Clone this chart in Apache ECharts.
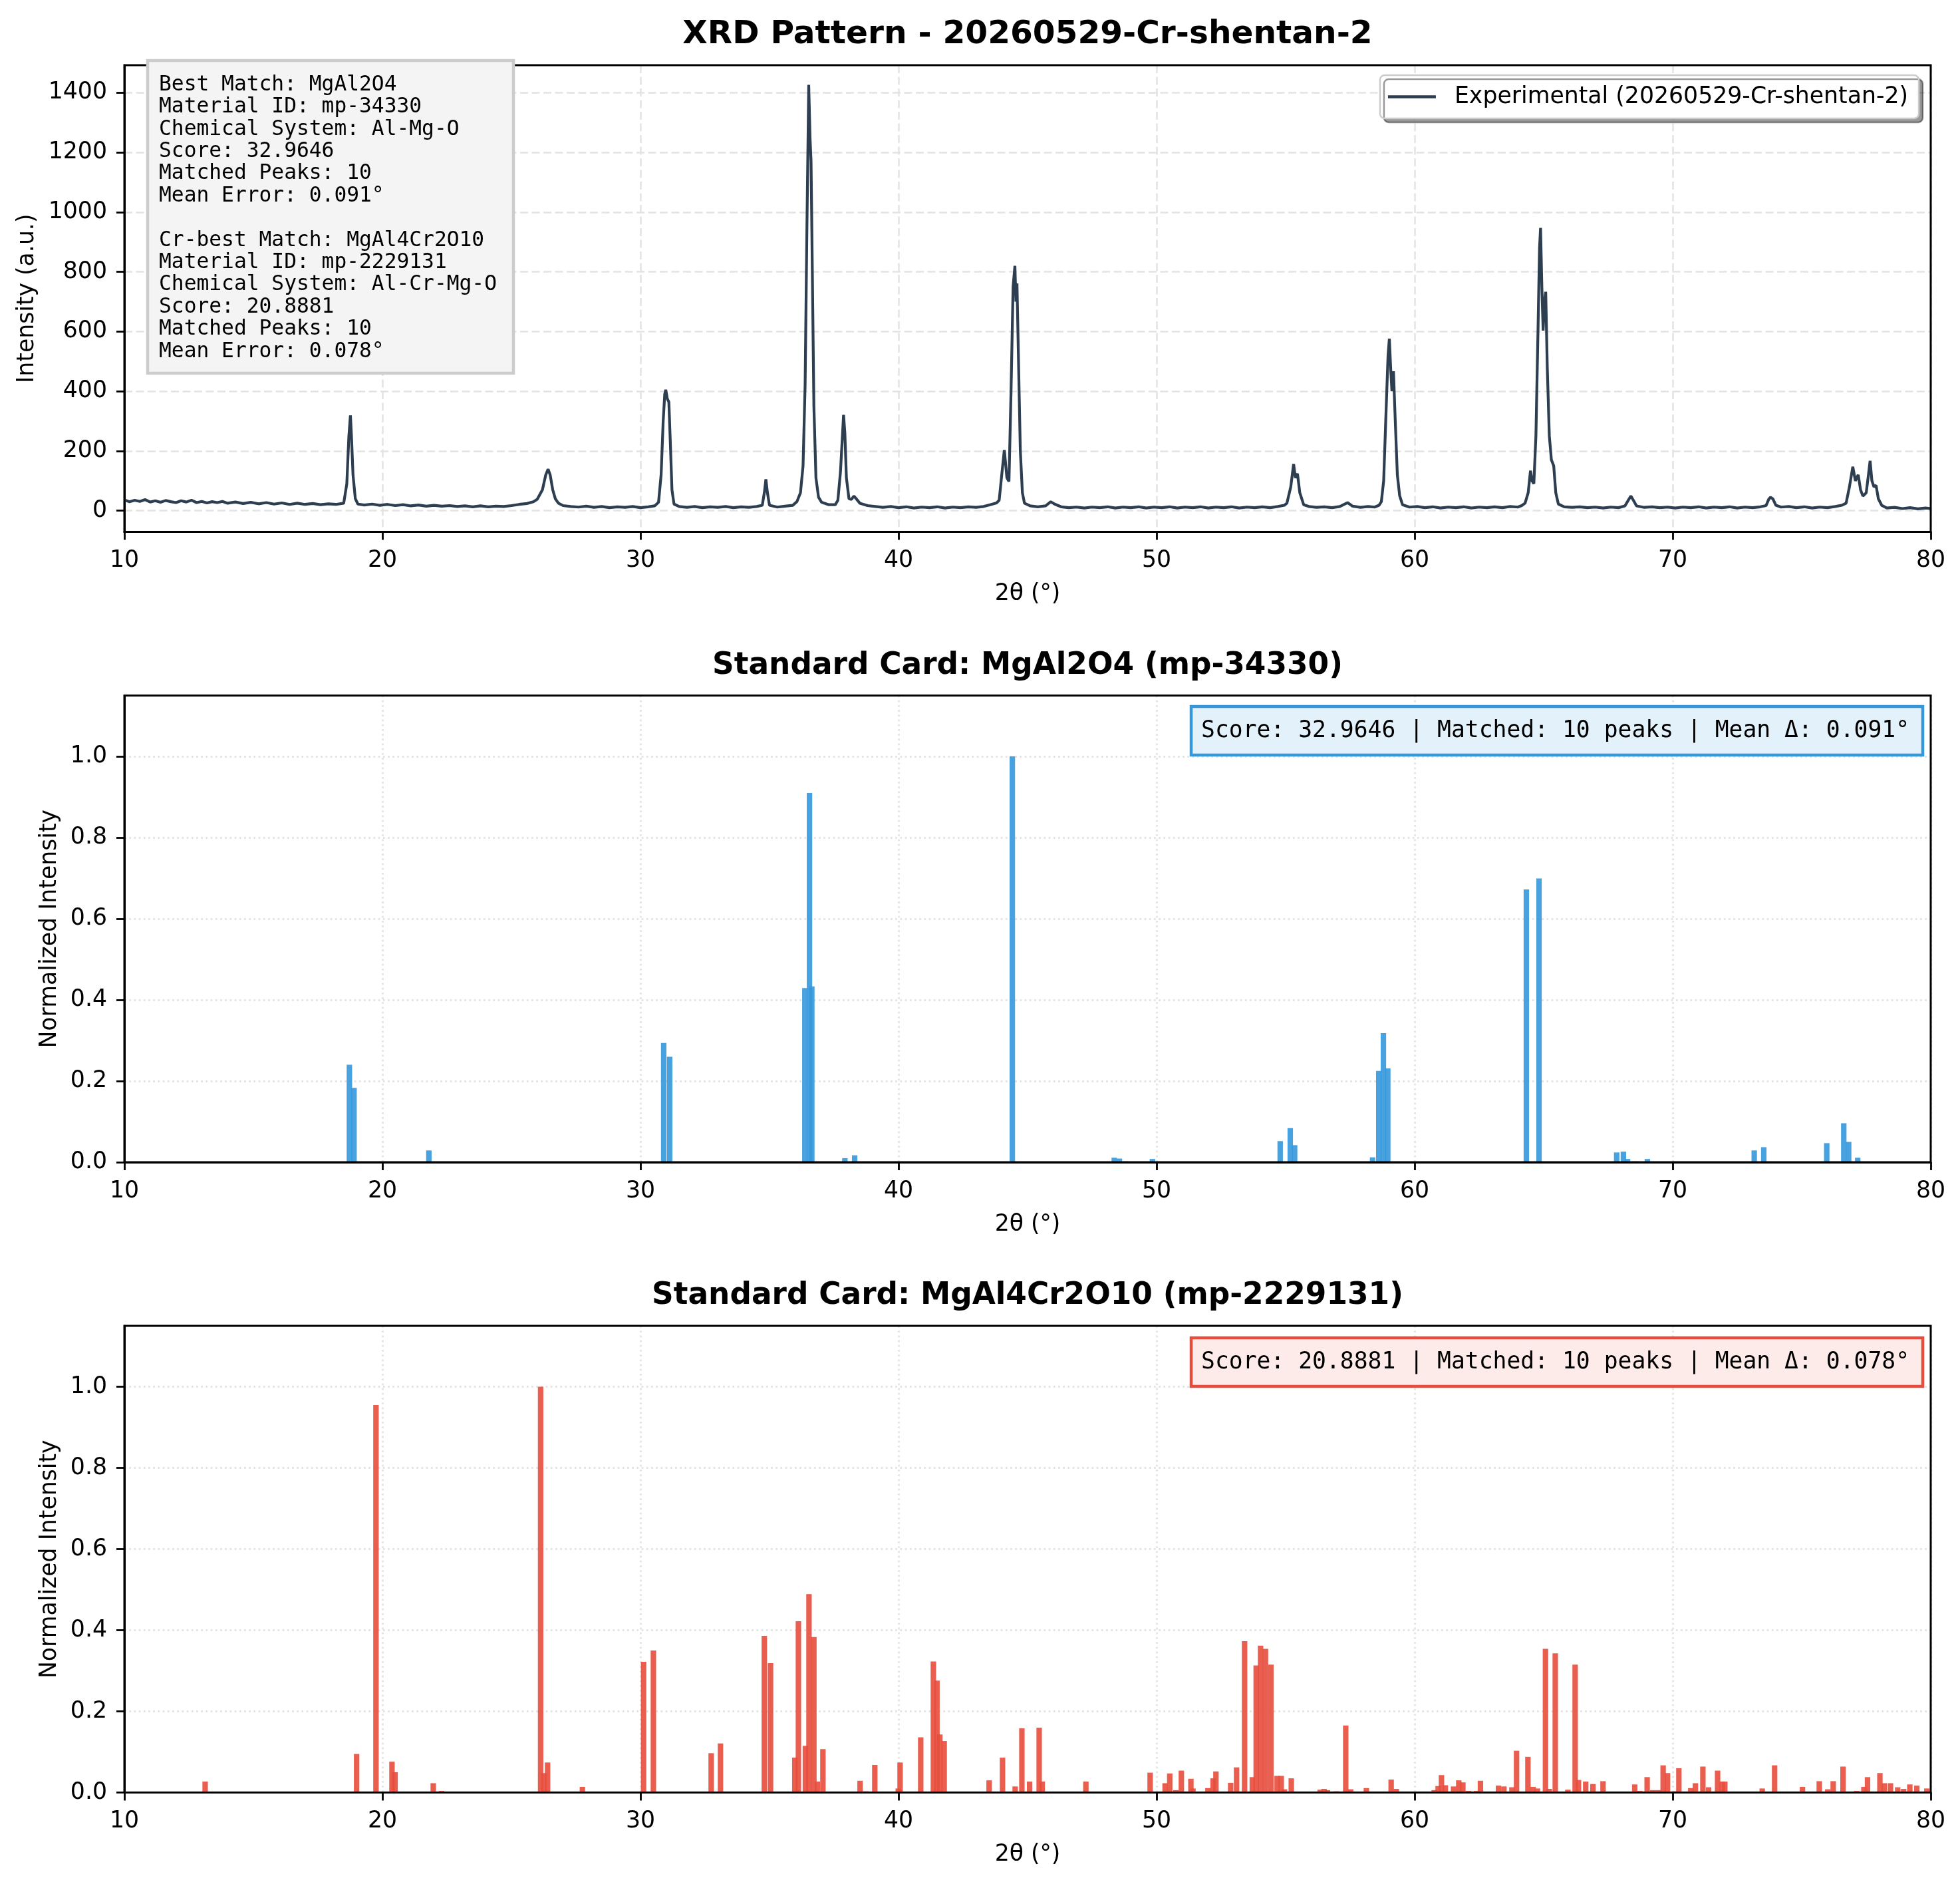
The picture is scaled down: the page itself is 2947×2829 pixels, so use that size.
<!DOCTYPE html>
<html>
<head>
<meta charset="utf-8">
<title>XRD Pattern - 20260529-Cr-shentan-2</title>
<script src="https://cdn.jsdelivr.net/npm/echarts@6/dist/echarts.min.js"></script>
<style>
  html, body { margin: 0; padding: 0; background: #fff; }
  #chart { width: 2947px; height: 2829px; }
</style>
</head>
<body>
<div id="chart"></div>
<script>
// XRD pattern of one sample with two reference cards underneath.

const sampleName = "20260529-Cr-shentan-2"
const twoThetaRange = [10, 80]
const intensityTicks = [0, 200, 400, 600, 800, 1000, 1200, 1400]
const normTicks = [0, 0.2, 0.4, 0.6, 0.8, 1.0]

// experimental scan: [2θ, counts]
const experimental = [
  [10.0, 36], [10.2, 30], [10.4, 35], [10.6, 31], [10.8, 37], [11.0, 29], [11.2, 33], [11.4, 28],
  [11.6, 34], [11.8, 30], [12.0, 27], [12.2, 33], [12.4, 29], [12.6, 35], [12.8, 27], [13.0, 31],
  [13.2, 26], [13.4, 30], [13.6, 27], [13.8, 31], [14.0, 25], [14.3, 29], [14.6, 24], [14.9, 28],
  [15.2, 23], [15.5, 27], [15.8, 22], [16.1, 26], [16.4, 21], [16.7, 25], [17.0, 21], [17.3, 24],
  [17.6, 20], [17.9, 23], [18.2, 21], [18.5, 25], [18.62, 90], [18.7, 250], [18.76, 319], [18.8, 250],
  [18.86, 120], [18.95, 40], [19.05, 22], [19.3, 19], [19.6, 22], [19.9, 18], [20.2, 21], [20.5, 17],
  [20.8, 20], [21.1, 16], [21.4, 19], [21.7, 15], [22.0, 18], [22.3, 15], [22.6, 17], [22.9, 14],
  [23.2, 16], [23.5, 13], [23.8, 16], [24.1, 13], [24.4, 15], [24.7, 14], [25.0, 17], [25.3, 21],
  [25.6, 24], [25.85, 30], [26.0, 38], [26.2, 70], [26.33, 120], [26.42, 139], [26.5, 120], [26.6, 70],
  [26.7, 40], [26.82, 25], [27.0, 17], [27.3, 14], [27.6, 12], [27.9, 15], [28.2, 11], [28.5, 14],
  [28.8, 10], [29.1, 13], [29.4, 11], [29.7, 14], [30.0, 10], [30.3, 13], [30.55, 16], [30.7, 28],
  [30.8, 120], [30.88, 300], [30.94, 390], [30.98, 405], [31.04, 375], [31.1, 364], [31.16, 220], [31.22, 70],
  [31.3, 22], [31.5, 14], [31.8, 11], [32.1, 14], [32.4, 10], [32.7, 13], [33.0, 11], [33.3, 14],
  [33.6, 10], [33.9, 13], [34.2, 11], [34.5, 14], [34.72, 18], [34.8, 60], [34.86, 105], [34.92, 60],
  [35.0, 18], [35.3, 12], [35.6, 15], [35.9, 18], [36.06, 30], [36.2, 60], [36.3, 150], [36.38, 420],
  [36.45, 950], [36.52, 1426], [36.57, 1250], [36.61, 1170], [36.66, 800], [36.72, 350], [36.8, 110], [36.9, 45],
  [37.02, 28], [37.3, 20], [37.55, 20], [37.65, 35], [37.75, 130], [37.87, 321], [37.92, 260], [37.98, 110],
  [38.08, 40], [38.18, 38], [38.27, 49], [38.36, 40], [38.5, 25], [38.8, 17], [39.1, 14], [39.4, 11],
  [39.7, 14], [40.0, 10], [40.3, 13], [40.6, 9], [40.9, 12], [41.2, 10], [41.5, 13], [41.8, 9],
  [42.1, 12], [42.4, 10], [42.7, 13], [43.0, 11], [43.3, 14], [43.55, 20], [43.8, 26], [43.9, 35],
  [44.0, 120], [44.1, 203], [44.2, 110], [44.28, 98], [44.36, 400], [44.44, 750], [44.51, 820], [44.55, 700],
  [44.59, 761], [44.65, 500], [44.72, 200], [44.8, 60], [44.88, 25], [45.1, 16], [45.4, 13], [45.7, 16],
  [45.9, 30], [46.05, 22], [46.3, 13], [46.6, 10], [46.9, 12], [47.2, 9], [47.5, 12], [47.8, 10],
  [48.1, 13], [48.4, 9], [48.7, 12], [49.0, 10], [49.3, 13], [49.6, 9], [49.9, 12], [50.2, 10],
  [50.5, 13], [50.8, 9], [51.1, 12], [51.4, 10], [51.7, 13], [52.0, 9], [52.3, 12], [52.6, 10],
  [52.9, 13], [53.2, 9], [53.5, 12], [53.8, 10], [54.1, 13], [54.4, 10], [54.7, 14], [54.95, 18],
  [55.05, 25], [55.2, 80], [55.31, 156], [55.38, 110], [55.46, 124], [55.55, 60], [55.7, 20], [55.9, 14],
  [56.2, 11], [56.5, 13], [56.8, 10], [57.1, 14], [57.4, 27], [57.6, 15], [57.9, 11], [58.2, 14],
  [58.45, 12], [58.62, 18], [58.71, 30], [58.8, 100], [58.9, 350], [58.97, 520], [59.02, 576], [59.07, 480],
  [59.12, 400], [59.18, 467], [59.25, 300], [59.33, 120], [59.42, 50], [59.53, 20], [59.8, 12], [60.1, 14],
  [60.4, 10], [60.7, 13], [61.0, 9], [61.3, 12], [61.6, 10], [61.9, 13], [62.2, 9], [62.5, 12],
  [62.8, 10], [63.1, 13], [63.4, 10], [63.7, 14], [64.0, 12], [64.15, 17], [64.28, 25], [64.4, 60],
  [64.49, 134], [64.55, 100], [64.62, 90], [64.7, 250], [64.78, 600], [64.84, 880], [64.88, 947], [64.93, 750],
  [64.98, 603], [65.03, 700], [65.08, 733], [65.14, 480], [65.22, 250], [65.3, 170], [65.39, 150], [65.47, 60],
  [65.57, 22], [65.8, 13], [66.1, 11], [66.4, 13], [66.7, 10], [67.0, 12], [67.3, 9], [67.6, 12],
  [67.9, 10], [68.15, 16], [68.3, 38], [68.38, 49], [68.47, 36], [68.6, 16], [68.9, 11], [69.2, 13],
  [69.5, 10], [69.8, 12], [70.1, 9], [70.4, 12], [70.7, 10], [71.0, 13], [71.3, 9], [71.6, 12],
  [71.9, 10], [72.2, 13], [72.5, 9], [72.8, 12], [73.1, 10], [73.4, 13], [73.62, 17], [73.72, 38],
  [73.79, 45], [73.88, 40], [74.0, 18], [74.2, 12], [74.5, 14], [74.8, 10], [75.1, 13], [75.4, 9],
  [75.7, 12], [76.0, 10], [76.3, 14], [76.55, 18], [76.72, 25], [76.85, 80], [76.98, 147], [77.08, 100],
  [77.19, 120], [77.28, 70], [77.37, 49], [77.5, 60], [77.6, 130], [77.65, 167], [77.72, 100], [77.8, 80],
  [77.88, 85], [77.97, 40], [78.1, 18], [78.3, 9], [78.6, 11], [78.9, 7], [79.2, 10], [79.5, 6],
  [79.8, 9], [80.0, 7],
]

// standard card MgAl2O4 (mp-34330): [2θ, normalized intensity]
const spinelPeaks = [
  [18.72, 0.240], [18.90, 0.183], [21.80, 0.029], [30.90, 0.294], [31.13, 0.260],
  [36.37, 0.429], [36.64, 0.433], [36.55, 0.910], [37.92, 0.010], [38.30, 0.017],
  [44.41, 1.000], [48.36, 0.011], [48.56, 0.009], [48.79, 0.002], [49.84, 0.008],
  [50.10, 0.001], [54.79, 0.052], [55.18, 0.084], [55.35, 0.042], [58.37, 0.012],
  [58.61, 0.225], [58.79, 0.318], [58.96, 0.231], [64.33, 0.672], [64.82, 0.699],
  [67.83, 0.024], [68.09, 0.026], [68.25, 0.008], [68.55, 0.002], [69.02, 0.008],
  [73.16, 0.029], [73.53, 0.037], [75.97, 0.047], [76.63, 0.096], [76.82, 0.050],
  [77.17, 0.011], [77.50, 0.001], [77.75, 0.001],
]

// standard card MgAl4Cr2O10 (mp-2229131)
const chromitePeaks = [
  [13.13, 0.027], [19.00, 0.095], [19.75, 0.955], [20.37, 0.076], [20.49, 0.050],
  [21.97, 0.023], [22.29, 0.004], [26.13, 1.000], [26.26, 0.048], [26.40, 0.074],
  [27.75, 0.014], [30.12, 0.322], [30.50, 0.350], [32.74, 0.097], [33.10, 0.121],
  [34.80, 0.386], [35.04, 0.319], [35.98, 0.086], [36.12, 0.422], [36.39, 0.115],
  [36.53, 0.489], [36.72, 0.383], [36.86, 0.027], [37.07, 0.107], [38.51, 0.029],
  [38.73, 0.003], [39.08, 0.068], [39.99, 0.010], [40.06, 0.074], [40.86, 0.136],
  [41.35, 0.323], [41.49, 0.276], [41.60, 0.143], [41.77, 0.127], [43.51, 0.030],
  [44.03, 0.086], [44.52, 0.015], [44.78, 0.158], [45.08, 0.027], [45.45, 0.160],
  [45.57, 0.027], [46.13, 0.002], [47.26, 0.027], [49.03, 0.002], [49.75, 0.049],
  [50.33, 0.023], [50.51, 0.047], [50.75, 0.006], [50.96, 0.054], [51.33, 0.034],
  [51.41, 0.010], [51.99, 0.011], [52.19, 0.035], [52.30, 0.052], [52.87, 0.024],
  [53.10, 0.062], [53.41, 0.373], [53.71, 0.038], [53.86, 0.313], [54.03, 0.362],
  [54.22, 0.354], [54.43, 0.315], [54.67, 0.041], [54.83, 0.041], [54.96, 0.008],
  [55.22, 0.035], [56.34, 0.007], [56.49, 0.009], [56.62, 0.006], [56.97, 0.003],
  [57.33, 0.165], [57.52, 0.008], [58.13, 0.011], [59.09, 0.032], [59.29, 0.009],
  [60.76, 0.006], [60.91, 0.016], [61.04, 0.043], [61.19, 0.018], [61.51, 0.015],
  [61.71, 0.030], [61.87, 0.025], [62.09, 0.004], [62.40, 0.004], [62.55, 0.029],
  [63.25, 0.017], [63.46, 0.015], [63.77, 0.013], [63.95, 0.103], [64.39, 0.088],
  [64.59, 0.014], [64.76, 0.010], [65.07, 0.354], [65.22, 0.009], [65.45, 0.343],
  [65.94, 0.007], [66.22, 0.315], [66.35, 0.031], [66.63, 0.027], [66.91, 0.021],
  [67.30, 0.028], [68.53, 0.020], [68.73, 0.004], [69.01, 0.038], [69.23, 0.006],
  [69.44, 0.006], [69.63, 0.067], [69.80, 0.048], [70.10, 0.003], [70.24, 0.060],
  [70.70, 0.011], [70.88, 0.023], [71.17, 0.064], [71.39, 0.013], [71.74, 0.054],
  [71.92, 0.027], [72.02, 0.027], [73.47, 0.010], [73.95, 0.067], [75.03, 0.014],
  [75.68, 0.028], [76.01, 0.008], [76.22, 0.028], [76.60, 0.064], [77.13, 0.004],
  [77.41, 0.014], [77.55, 0.038], [78.03, 0.048], [78.20, 0.023], [78.44, 0.023],
  [78.72, 0.013], [78.95, 0.009], [79.19, 0.020], [79.46, 0.017], [79.85, 0.010],
]

const matchInfo = [
  "Best Match: MgAl2O4",
  "Material ID: mp-34330",
  "Chemical System: Al-Mg-O",
  "Score: 32.9646",
  "Matched Peaks: 10",
  "Mean Error: 0.091°",
  "",
  "Cr-best Match: MgAl4Cr2O10",
  "Material ID: mp-2229131",
  "Chemical System: Al-Cr-Mg-O",
  "Score: 20.8881",
  "Matched Peaks: 10",
  "Mean Error: 0.078°",
]
const spinelSummary = "Score: 32.9646 | Matched: 10 peaks | Mean Δ: 0.091°"
const chromiteSummary = "Score: 20.8881 | Matched: 10 peaks | Mean Δ: 0.078°"

// layout (pixels)
const SANS = "DejaVu Sans"
const MONO = "DejaVu Sans Mono"
const FS = 34.7
const PLOT_LEFT = 187
const PLOT_WIDTH = 2716
const PLOT_HEIGHT = 701.5
const PLOT_TOPS = [98, 1045.5, 1993]
const CENTER_X = PLOT_LEFT + PLOT_WIDTH / 2

const dashedGrid = {color: "#e3e3e3", width: 2.5, type: [12, 5.5]}
const dottedGrid = {color: "#e4e4e4", width: 2.8, type: [2.8, 4.4]}

function xAxisFor(i, gridLine) {
  return {
    type: "value",
    gridIndex: i,
    min: twoThetaRange[0],
    max: twoThetaRange[1],
    interval: 10,
    name: "2θ (°)",
    nameLocation: "middle",
    nameGap: 76,
    nameTextStyle: {fontSize: FS, color: "#000", fontFamily: SANS},
    axisLine: {show: true, onZero: false, lineStyle: {color: "#000", width: 3}},
    axisTick: {show: true, length: 12, lineStyle: {color: "#000", width: 2.8}},
    axisLabel: {fontSize: FS, color: "#000", fontFamily: SANS, margin: 26},
    splitLine: {show: true, lineStyle: gridLine},
  }
}

function yAxisFor(i, opts) {
  return {
    type: "value",
    gridIndex: i,
    min: opts.min,
    max: opts.max,
    name: opts.name,
    nameLocation: "middle",
    nameGap: opts.nameGap,
    nameTextStyle: {fontSize: FS, color: "#000", fontFamily: SANS},
    axisLine: {show: true, onZero: false, lineStyle: {color: "#000", width: 3}},
    axisTick: {show: true, length: 12, customValues: opts.ticks, lineStyle: {color: "#000", width: 2.8}},
    axisLabel: {
      fontSize: FS, color: "#000", fontFamily: SANS, margin: 26,
      customValues: opts.ticks,
      formatter: opts.formatter,
    },
    splitLine: {show: true, lineStyle: opts.gridLine},
  }
}

function scoreBox(top, text, stroke, fill) {
  const width = 1100
  const height = 73
  const x = PLOT_LEFT + PLOT_WIDTH - 12 - width
  return [
    {type: "rect", z: 95, silent: true,
      shape: {x, y: top, width, height},
      style: {fill, stroke, lineWidth: 4.5}},
    {type: "text", z: 96, silent: true, x: x + 15, y: top + height / 2,
      style: {text, fontSize: FS, fontFamily: MONO, fill: "#000", align: "left", verticalAlign: "middle"}},
  ]
}

const chart = echarts.init(document.getElementById("chart"), null, {renderer: "canvas"})
const expName = `Experimental (${sampleName})`

chart.setOption({
  animation: false,
  backgroundColor: "#fff",
  textStyle: {fontFamily: SANS},
  title: [
    {text: `XRD Pattern - ${sampleName}`, top: 28, left: CENTER_X, textAlign: "center", padding: 0,
      textStyle: {fontSize: 48.6, fontWeight: "bold", fontFamily: SANS, color: "#000"}},
    {text: "Standard Card: MgAl2O4 (mp-34330)", top: 979, left: CENTER_X, textAlign: "center", padding: 0,
      textStyle: {fontSize: 45.4, fontWeight: "bold", fontFamily: SANS, color: "#000"}},
    {text: "Standard Card: MgAl4Cr2O10 (mp-2229131)", top: 1926, left: CENTER_X, textAlign: "center", padding: 0,
      textStyle: {fontSize: 45.4, fontWeight: "bold", fontFamily: SANS, color: "#000"}},
  ],
  legend: {
    data: [expName],
    right: 62,
    top: 113,
    icon: "rect",
    itemWidth: 72,
    itemHeight: 4.5,
    padding: [15, 16, 15, 12],
    backgroundColor: "#fff",
    borderColor: "#cccccc",
    borderWidth: 2.5,
    borderRadius: 7,
    shadowColor: "rgba(0,0,0,0.4)",
    shadowOffsetX: 6,
    shadowOffsetY: 6,
    shadowBlur: 0,
    selectedMode: false,
    textStyle: {fontSize: FS, fontFamily: SANS, color: "#000", padding: [0, 0, 0, 23]},
  },
  grid: PLOT_TOPS.map(top => ({left: PLOT_LEFT, width: PLOT_WIDTH, top, height: PLOT_HEIGHT})),
  xAxis: [
    xAxisFor(0, dashedGrid),
    xAxisFor(1, dottedGrid),
    xAxisFor(2, dottedGrid),
  ],
  yAxis: [
    yAxisFor(0, {min: -71, max: 1492, ticks: intensityTicks, name: "Intensity (a.u.)", nameGap: 129,
      gridLine: dashedGrid, formatter: v => String(v)}),
    yAxisFor(1, {min: 0, max: 1.15, ticks: normTicks, name: "Normalized Intensity", nameGap: 95,
      gridLine: dottedGrid, formatter: v => v.toFixed(1)}),
    yAxisFor(2, {min: 0, max: 1.15, ticks: normTicks, name: "Normalized Intensity", nameGap: 95,
      gridLine: dottedGrid, formatter: v => v.toFixed(1)}),
  ],
  series: [
    {
      name: expName,
      type: "line",
      xAxisIndex: 0,
      yAxisIndex: 0,
      data: experimental,
      symbol: "none",
      lineStyle: {color: "#2c3e50", width: 4.2},
      itemStyle: {color: "#2c3e50"},
    },
    {
      name: "MgAl2O4",
      type: "bar",
      xAxisIndex: 1,
      yAxisIndex: 1,
      data: spinelPeaks,
      barWidth: 8.2,
      itemStyle: {color: "rgba(52,152,219,0.9)"},
    },
    {
      name: "MgAl4Cr2O10",
      type: "bar",
      xAxisIndex: 2,
      yAxisIndex: 2,
      data: chromitePeaks,
      barWidth: 8.2,
      itemStyle: {color: "rgba(231,76,60,0.9)"},
    },
  ],
  graphic: [
    ...PLOT_TOPS.map(top => ({
      type: "rect", z: 90, silent: true,
      shape: {x: PLOT_LEFT, y: top, width: PLOT_WIDTH, height: PLOT_HEIGHT},
      style: {fill: "none", stroke: "#000", lineWidth: 3},
    })),
    {type: "rect", z: 95, silent: true,
      shape: {x: 222, y: 91, width: 550, height: 470},
      style: {fill: "#f4f4f4", stroke: "#cccccc", lineWidth: 4.5}},
    {type: "text", z: 96, silent: true, x: 239, y: 111,
      style: {text: matchInfo.join("\n"), fontSize: 31.25, fontFamily: MONO, lineHeight: 33.4,
        fill: "#000", align: "left", verticalAlign: "top"}},
    ...scoreBox(PLOT_TOPS[1] + 16.5, spinelSummary, "#3498db", "#e3f1fa"),
    ...scoreBox(PLOT_TOPS[2] + 18, chromiteSummary, "#e74c3c", "#fdebe9"),
  ],
})
</script>
</body>
</html>
